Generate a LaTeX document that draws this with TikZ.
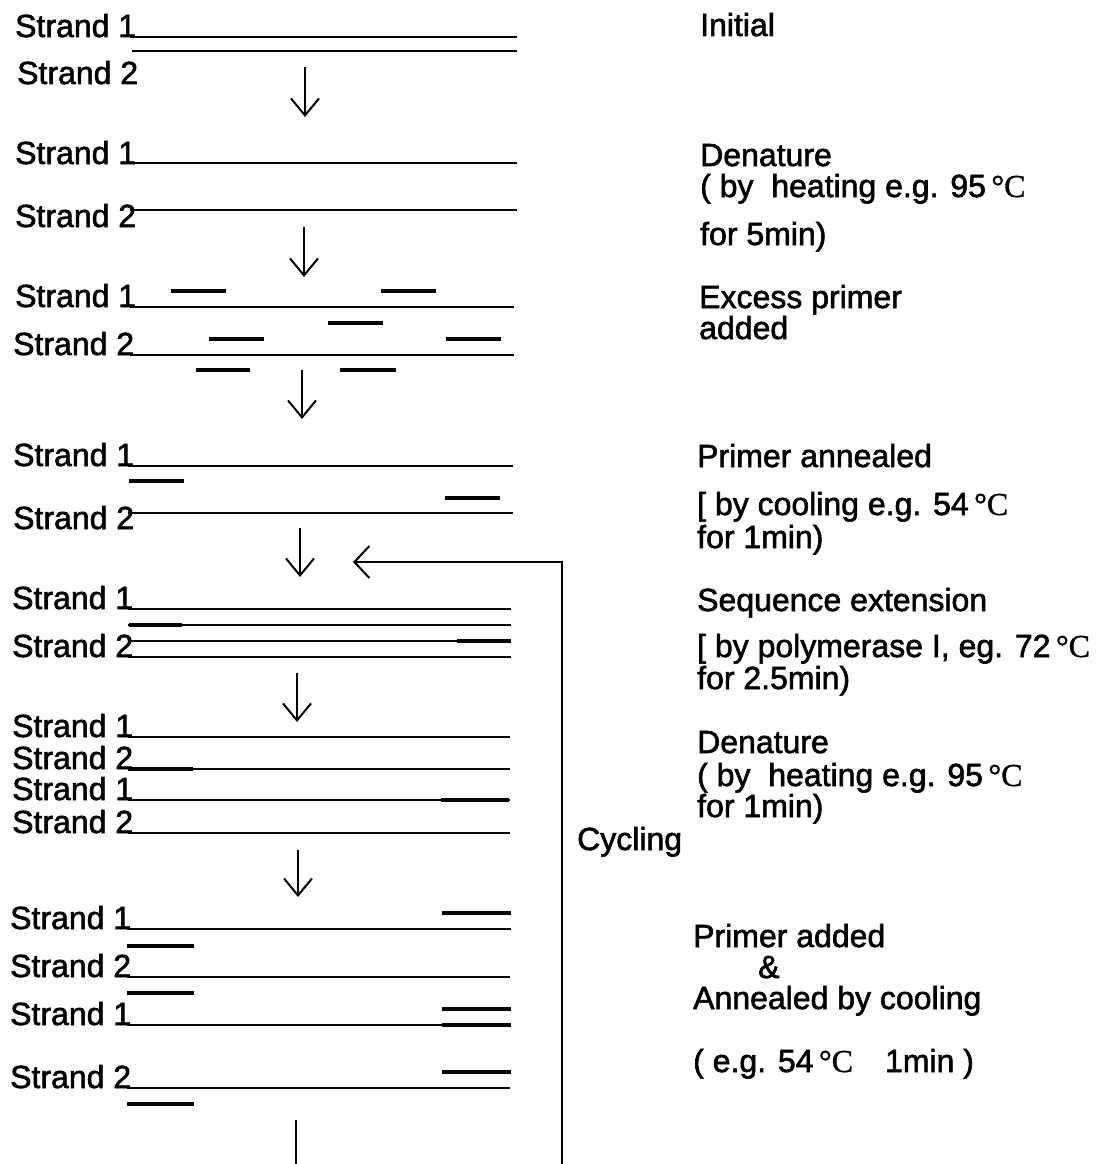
\documentclass[tikz,border=0pt]{standalone}
\usepackage{fontspec}
\setmainfont[FakeBold=1.8]{Liberation Sans}
\newfontfamily\degfont[FakeBold=1]{Liberation Serif}
\usepackage{tikz}
\usetikzlibrary{arrows.meta}
\newcommand{\degC}{{\degfont °C}}

\begin{document}
\begin{tikzpicture}[x=1pt,y=-1pt,
  every node/.style={font=\fontsize{32}{36}\selectfont,inner sep=0pt,anchor=base west},
  strand/.style={line width=2pt},
  primer/.style={line width=4.6pt},
  stepdown/.style={line width=2pt,-{Straight Barb[length=17pt,width=28pt]}}]
\useasboundingbox (0,0) rectangle (1109,1164);
\node (s1a) at (15,37) {Strand 1};
\node (s2a) at (17,84) {Strand 2};
\draw[strand] (130,37) -- (517,37);
\draw[strand] (132,51) -- (517,51);
\node (s1b) at (15,164) {Strand 1};
\node (s2b) at (15,227) {Strand 2};
\draw[strand] (130,163) -- (517,163);
\draw[strand] (130,210) -- (517,210);
\node (s1c) at (15,307) {Strand 1};
\node (s2c) at (13,355) {Strand 2};
\draw[strand] (130,307) -- (514,307);
\draw[strand] (130,355) -- (514,355);
\draw[primer] (171,291) -- (226,291);
\draw[primer] (381,291) -- (436,291);
\draw[primer] (328,323) -- (383,323);
\draw[primer] (209,339) -- (264,339);
\draw[primer] (446,339) -- (501,339);
\draw[primer] (196,370) -- (250,370);
\draw[primer] (340,370) -- (396,370);
\node (s1d) at (13,466) {Strand 1};
\node (s2d) at (13,529) {Strand 2};
\draw[strand] (128,466) -- (513,466);
\draw[strand] (128,513) -- (513,513);
\draw[primer] (129,481) -- (184,481);
\draw[primer] (445,498) -- (500,498);
\node (s1e) at (12,609) {Strand 1};
\node (s2e) at (12,657) {Strand 2};
\draw[strand] (128,609) -- (511,609);
\draw[strand] (128,625) -- (511,625);
\draw[strand] (128,641) -- (511,641);
\draw[strand] (128,657) -- (511,657);
\draw[primer] (129,625) -- (182,625);
\draw[primer] (457,641) -- (511,641);
\node (s1f) at (12,737) {Strand 1};
\node (s2f) at (12,769) {Strand 2};
\node (s1g) at (12,800) {Strand 1};
\node (s2g) at (12,833) {Strand 2};
\draw[strand] (128,737) -- (510,737);
\draw[strand] (128,769) -- (510,769);
\draw[strand] (128,800) -- (510,800);
\draw[strand] (128,833) -- (510,833);
\draw[primer] (128,769) -- (193,769);
\draw[primer] (441,800) -- (509,800);
\node (s1h) at (10,929) {Strand 1};
\node (s2h) at (10,977) {Strand 2};
\node (s1i) at (10,1025) {Strand 1};
\node (s2i) at (10,1088) {Strand 2};
\draw[strand] (127,929) -- (511,929);
\draw[strand] (127,977) -- (510,977);
\draw[strand] (127,1025) -- (511,1025);
\draw[strand] (127,1088) -- (510,1088);
\draw[primer] (442,913) -- (511,913);
\draw[primer] (127,946) -- (194,946);
\draw[primer] (127,993) -- (194,993);
\draw[primer] (442,1009) -- (511,1009);
\draw[primer] (442,1025) -- (511,1025);
\draw[primer] (442,1072) -- (511,1072);
\draw[primer] (127,1104) -- (194,1104);
\coordinate (a1) at (305,67);  \coordinate (b1) at (305,117);
\coordinate (a2) at (304,227); \coordinate (b2) at (304,277);
\coordinate (a3) at (302,370); \coordinate (b3) at (302,419);
\coordinate (a4) at (300,528); \coordinate (b4) at (300,577);
\coordinate (a5) at (297,673); \coordinate (b5) at (297,722);
\coordinate (a6) at (298,850); \coordinate (b6) at (298,897);
\coordinate (a7) at (296,1120); \coordinate (b7) at (296,1164);
\draw[stepdown] (a1) -- (b1);
\draw[stepdown] (a2) -- (b2);
\draw[stepdown] (a3) -- (b3);
\draw[stepdown] (a4) -- (b4);
\draw[stepdown] (a5) -- (b5);
\draw[stepdown] (a6) -- (b6);
\draw[strand] (a7) -- (b7);
\coordinate (cycbot) at (562,1164);
\coordinate (cyctip) at (353,562);
\draw[line width=2pt,-{Straight Barb[length=15pt,width=32pt]}] (cycbot) |- (cyctip);
\node (cyc) at (577,850) {Cycling};
\node (t1) at (700,36) {Initial};
\node (t2) at (700,166) {Denature};
\node (t3) at (700,197) {( by\ \ heating e.g. 95\,\degC};
\node (t4) at (700,245) {for 5min)};
\node (t5) at (699,308) {Excess primer};
\node (t6) at (699,339) {added};
\node (t7) at (697,467) {Primer annealed};
\node (t8) at (697,515) {[ by cooling e.g. 54\,\degC};
\node (t9) at (697,548) {for 1min)};
\node (t10) at (697,611) {Sequence extension};
\node (t11) at (697,657) {[ by polymerase I, eg. 72\,\degC};
\node (t12) at (697,689) {for 2.5min)};
\node (t13) at (697,753) {Denature};
\node (t14) at (697,786) {( by\ \ heating e.g. 95\,\degC};
\node (t15) at (697,817) {for 1min)};
\node (t16) at (693,947) {Primer added};
\node (t17) at (758,978) {\&};
\node (t18) at (693,1009) {Annealed by cooling};
\node (t19) at (693,1072) {( e.g. 54\,\degC\quad 1min )};
\end{tikzpicture}
\end{document}
